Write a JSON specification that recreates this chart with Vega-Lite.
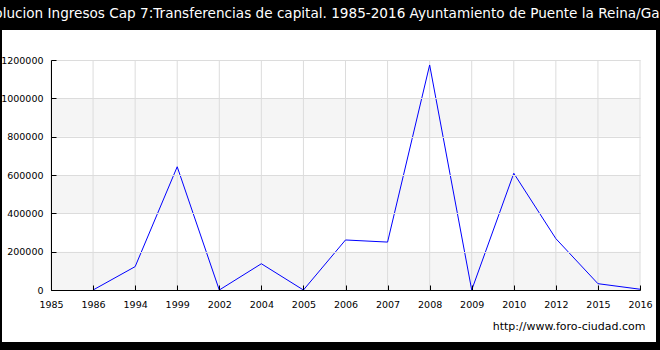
{
  "$schema": "https://vega.github.io/schema/vega-lite/v6.json",
  "width": 654,
  "height": 312,
  "autosize": {"type": "none"},
  "padding": {"left": 2, "top": 30, "right": 4, "bottom": 8},
  "background": "black",
  "title": {
    "text": "Evolucion Ingresos Cap 7:Transferencias de capital. 1985-2016 Ayuntamiento de Puente la Reina/Gares",
    "color": "white",
    "font": "DejaVu Sans",
    "fontSize": 13.6,
    "fontWeight": "normal",
    "anchor": "middle",
    "offset": 9
  },
  "config": {
    "view": {"fill": "white", "stroke": null},
    "axis": {
      "labelFont": "DejaVu Sans",
      "labelFontSize": 9.5,
      "labelColor": "black",
      "domainColor": "black",
      "tickColor": "black",
      "gridColor": "#dcdcdc",
      "tickSize": -5,
      "titleFont": "DejaVu Sans",
      "titleFontWeight": "normal",
      "titleColor": "black"
    }
  },
  "datasets": {
    "bands": [
      {"lo": 0, "hi": 200000},
      {"lo": 400000, "hi": 600000},
      {"lo": 800000, "hi": 1000000}
    ],
    "years": [
      {"year": "1985"}, {"year": "1986"}, {"year": "1994"}, {"year": "1999"}, {"year": "2002"},
      {"year": "2004"}, {"year": "2005"}, {"year": "2006"}, {"year": "2007"}, {"year": "2008"},
      {"year": "2009"}, {"year": "2010"}, {"year": "2012"}, {"year": "2015"}, {"year": "2016"}
    ],
    "series": [
      {"year": "1986", "value": 0},
      {"year": "1994", "value": 122000},
      {"year": "1999", "value": 643000},
      {"year": "2002", "value": 0},
      {"year": "2004", "value": 137000},
      {"year": "2005", "value": 0},
      {"year": "2006", "value": 261000},
      {"year": "2007", "value": 250000},
      {"year": "2008", "value": 1174000},
      {"year": "2009", "value": 0},
      {"year": "2010", "value": 609000},
      {"year": "2012", "value": 268000},
      {"year": "2015", "value": 33000},
      {"year": "2016", "value": 4000}
    ]
  },
  "layer": [
    {
      "data": {"name": "bands"},
      "mark": {"type": "rect", "color": "black", "opacity": 0.04},
      "encoding": {
        "x": {
          "datum": "1985",
          "type": "ordinal",
          "scale": {
            "type": "point",
            "domain": ["1985", "1986", "1994", "1999", "2002", "2004", "2005", "2006", "2007", "2008", "2009", "2010", "2012", "2015", "2016"],
            "range": [49, 638],
            "padding": 0
          },
          "axis": {
            "title": "http://www.foro-ciudad.com",
            "titleAnchor": "end",
            "titleFontSize": 11,
            "titlePadding": 12,
            "titleX": 643,
            "titleAlign": "right",
            "offset": -52,
            "grid": false,
            "zindex": 1,
            "labelAngle": 0,
            "labelOverlap": false,
            "labelPadding": 14
          }
        },
        "x2": {"datum": "2016"},
        "y": {
          "field": "lo",
          "type": "quantitative",
          "scale": {"domain": [0, 1200000], "range": [260, 30], "nice": false, "zero": false},
          "axis": {
            "title": null,
            "offset": -49,
            "grid": true,
            "zindex": 1,
            "values": [0, 200000, 400000, 600000, 800000, 1000000, 1200000],
            "format": "d",
            "labelPadding": 13
          }
        },
        "y2": {"field": "hi"}
      }
    },
    {
      "data": {"name": "years"},
      "mark": {"type": "rule", "color": "#dcdcdc", "strokeWidth": 1},
      "encoding": {
        "x": {"field": "year", "type": "ordinal"},
        "y": {"datum": 0, "type": "quantitative"},
        "y2": {"datum": 1200000}
      }
    },
    {
      "data": {"name": "series"},
      "mark": {"type": "line", "color": "#0000ff", "strokeWidth": 1},
      "encoding": {
        "x": {"field": "year", "type": "ordinal"},
        "y": {"field": "value", "type": "quantitative"}
      }
    }
  ]
}
